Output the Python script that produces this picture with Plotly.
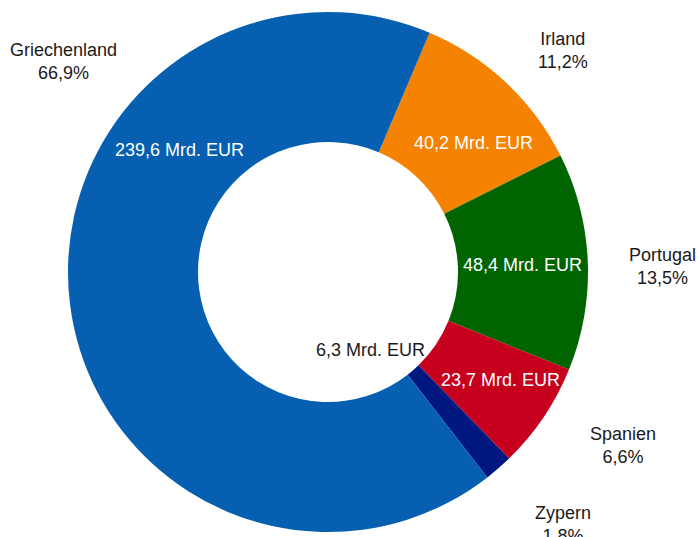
import plotly.graph_objects as go

# ---- data ----
countries = ["Irland", "Portugal", "Spanien", "Zypern", "Griechenland"]
values_bn_eur = [40.2, 48.4, 23.7, 6.3, 239.6]
unit = "Mrd. EUR"

# ---- styles / layout ----
W, H = 698, 537
colors = ["#F58200", "#006500", "#C6001D", "#00177F", "#065FB0"]
value_label_colors = ["white", "white", "white", "#1a1a1a", "white"]
# label positions in pixels (value label, name/percent label)
value_label_pos = [(473, 143), (522, 265), (500, 380), (370, 350), (179, 150)]
name_label_pos = [(563, 51), (662, 266), (623, 445), (563, 524), (63, 61)]
cx, cy, R = 328, 272, 260
FONT = "Arial, Liberation Sans, sans-serif"

def fmt(v, nd=1):
    return f"{v:.{nd}f}".replace(".", ",")

total = sum(values_bn_eur)

fig = go.Figure(go.Pie(
    labels=countries,
    values=values_bn_eur,
    sort=False,
    direction="clockwise",
    rotation=23,
    hole=0.5,
    textinfo="none",
    hoverinfo="label+value+percent",
    marker=dict(colors=colors, line=dict(width=0)),
    domain=dict(x=[(cx - R) / W, (cx + R) / W],
                y=[1 - (cy + R) / H, 1 - (cy - R) / H]),
    showlegend=False,
))

annotations = []
for c, v, col, (vx, vy), (nx, ny) in zip(countries, values_bn_eur, value_label_colors,
                                          value_label_pos, name_label_pos):
    annotations.append(dict(
        x=vx / W, y=1 - vy / H, xref="paper", yref="paper",
        text=f"{fmt(v)} {unit}", showarrow=False,
        font=dict(family=FONT, size=18, color=col),
        xanchor="center", yanchor="middle",
    ))
    annotations.append(dict(
        x=nx / W, y=1 - ny / H, xref="paper", yref="paper",
        text=f"{c}<br>{fmt(v / total * 100)}%", showarrow=False,
        font=dict(family=FONT, size=18, color="#1a1a1a"),
        xanchor="center", yanchor="middle", align="center",
    ))

fig.update_layout(
    width=W, height=H,
    margin=dict(l=0, r=0, t=0, b=0),
    paper_bgcolor="white",
    plot_bgcolor="white",
    annotations=annotations,
)

fig.write_html("out.html")
